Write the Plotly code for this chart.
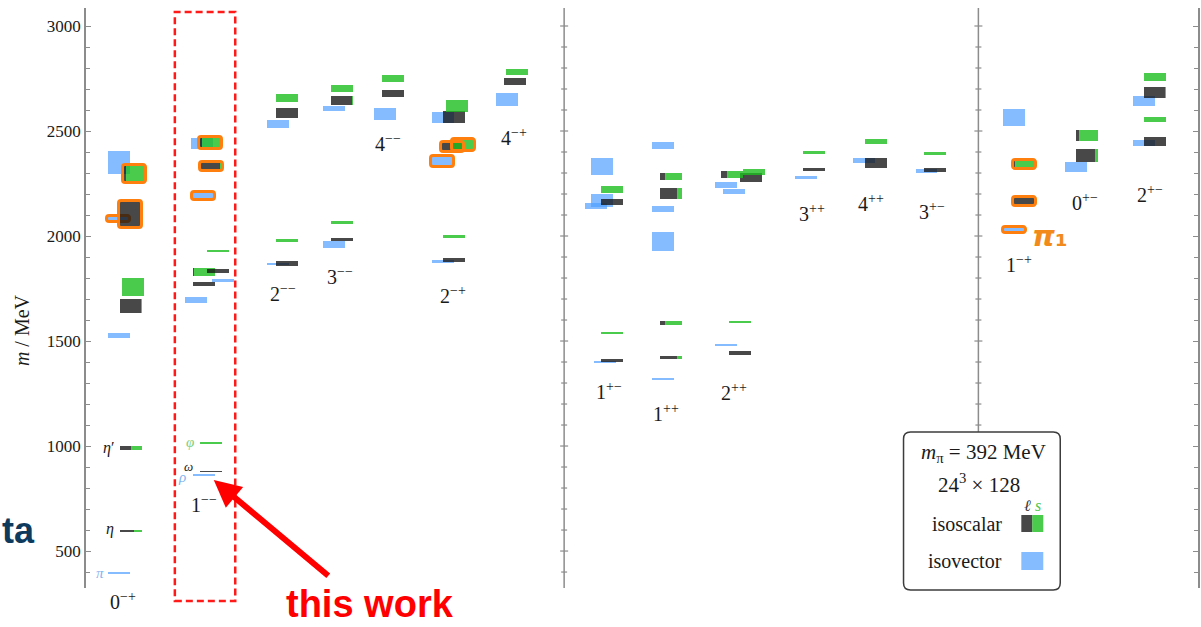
import plotly.graph_objects as go

# ---------------------------------------------------------------- channels
channels = ["0-+", "1--", "2--", "3--", "4--", "2-+", "4-+",
            "1+-", "1++", "2++", "3++", "4++", "3+-",
            "1-+", "0+-", "2+-"]
channel_text = ["0<sup>−+</sup>", "1<sup>−−</sup>", "2<sup>−−</sup>", "3<sup>−−</sup>",
                "4<sup>−−</sup>", "2<sup>−+</sup>", "4<sup>−+</sup>",
                "1<sup>+−</sup>", "1<sup>++</sup>", "2<sup>++</sup>", "3<sup>++</sup>",
                "4<sup>++</sup>", "3<sup>+−</sup>",
                "1<sup>−+</sup>", "0<sup>+−</sup>", "2<sup>+−</sup>"]
# column centre of each channel (x axis runs in screen-pixel units)
channel_x = [131, 211, 287, 342, 394, 455, 516,
             613, 672, 741, 815, 877, 937,
             1026, 1089, 1157]
label_x = [123, 204, 283, 340, 389, 454, 515,
           610, 667, 735, 813, 872, 934,
           1021, 1087, 1152]
label_y = [602, 505, 294, 277, 144, 296, 138,
           392, 414, 393, 214, 204, 212,
           265, 203, 195]

# ---------------------------------------------------------------- isovector states
iv_channel = ["0-+", "0-+", "0-+", "0-+",
              "1--", "1--", "1--", "1--", "1--",
              "2--", "2--", "3--", "3--", "4--",
              "2-+", "2-+", "2-+", "4-+",
              "1+-", "1+-", "1+-", "1+-",
              "1++", "1++", "1++", "1++",
              "2++", "2++", "2++", "3++", "4++", "3+-",
              "1-+", "1-+", "0+-", "2+-", "2+-"]
iv_mass = [394, 1527, 2081, 2351,
           862, 1695, 1788, 2189, 2439,
           1867, 2532, 1960, 2608, 2582,
           1878, 2356, 2563, 2649,
           1399, 2143, 2169, 2330,
           1318, 1974, 2130, 2430,
           1480, 2211, 2243, 2280, 2358, 2310,
           2029, 2564, 2329, 2443, 2644]
iv_err = [4, 12, 13, 55,
          4, 13, 7, 17, 26,
          5, 20, 17, 13, 29,
          8, 24, 26, 30,
          6, 16, 30, 40,
          5, 45, 14, 16,
          5, 13, 13, 8, 12, 9,
          11, 40, 25, 14, 24]
iv_dx = [-12, -12, -12, -12,
         -7, -14.5, 12, -7.5, -9,
         -9, -9, -8, -8, -8,
         -11, -11.5, -11, -8.5,
         -7.5, -16.3, -10, -10,
         -8, -8, -8, -8,
         -14, -6, -14, -8, -12, -9,
         -10, -10, -11, -11, -11]
iv_mark = [0, 0, 1, 0,
           0, 0, 0, 1, 0,
           0, 0, 0, 0, 0,
           0, 1, 0, 0,
           0, 0, 0, 0,
           0, 0, 0, 0,
           0, 0, 0, 0, 0, 0,
           1, 0, 0, 0, 0]

# ---------------------------------------------------------------- isoscalar states
is_channel = ["0-+"] * 6 + ["1--"] * 8 + ["2--"] * 4 + ["3--"] * 4 + ["4--"] * 2 + \
             ["2-+"] * 6 + ["4-+"] * 2 + ["1+-"] * 4 + ["1++"] * 4 + ["2++"] * 5 + \
             ["3++"] * 2 + ["4++"] * 2 + ["3+-"] * 2 + ["1-+"] * 2 + ["0+-"] * 2 + ["2+-"] * 4
is_mass = [597, 992, 1667, 1757, 2102, 2296,
           878, 1013, 1770, 1830, 1832, 1929, 2330, 2443,
           1867, 1978, 2586, 2658,
           1984, 2064, 2645, 2703,
           2679, 2750,
           1886, 1997, 2567, 2618, 2425, 2433,
           2737, 2780,
           1409, 1539, 2162, 2222,
           1422, 1586, 2202, 2284,
           1444, 1591, 2277, 2293, 2304,
           2318, 2399,
           2348, 2449,
           2316, 2391,
           2164, 2340,
           2383, 2479,
           2449, 2555, 2683, 2759]
is_err = [4, 9.5, 33, 43, 61, 40,
          4, 4, 9, 20, 9, 5, 19, 24,
          12, 6, 22, 18,
          8, 7, 21, 16,
          18, 15,
          11, 6, 30, 29, 22, 27,
          17, 15,
          7, 4, 13, 16,
          6, 8, 25, 17,
          9, 4, 21, 17, 15,
          8, 7,
          22, 12,
          10, 7,
          18, 20,
          29, 26,
          21, 13, 28, 19]
# light-quark (ℓ) fraction of each isoscalar state; the rest is strange (s)
is_light = [0.62, 0.5, 0.97, 0.0, 0.9, 0.08,
            1, 0, 1, 0.02, 1, 0, 0.9, 0.08,
            1, 0, 1, 0,
            1, 0, 0.96, 0,
            1, 0,
            1, 0, 1, 0, 0.95, 0.05,
            1, 0,
            1, 0, 1, 0,
            0.76, 0.21, 0.77, 0.21,
            1, 0, 1, 0.27, 0,
            1, 0,
            1, 0,
            1, 0,
            0.92, 0.08,
            0.85, 0.12,
            1, 0, 0.97, 0]
is_dx = [0, 0, 0, 2.5, 0, 4,
         0, 0, -6.7, -6.5, 7, 7, 0.5, 0,
         0, 0, 0, 0,
         0, 0, 0, 0,
         0, 0,
         0, 0, 0, 3, -1.5, 9,
         0, 2,
         0, 0, 0, 0,
         0, 0, 0, 0,
         0, 0, 11, -8, 14,
         0, 0,
         0, 0,
         0, 0,
         0, 0,
         0, 0,
         0, 0, 0, 0]
is_mark = [0, 0, 0, 0, 1, 1,
           0, 0, 0, 0, 0, 0, 1, 1,
           0, 0, 0, 0,
           0, 0, 0, 0,
           0, 0,
           0, 0, 0, 0, 1, 1,
           0, 0,
           0, 0, 0, 0,
           0, 0, 0, 0,
           0, 0, 0, 0, 0,
           0, 0,
           0, 0,
           0, 0,
           1, 1,
           0, 0,
           0, 0, 0, 0]

# ---------------------------------------------------------------- style
BAR_W = 22
BLUE = "rgba(80,160,255,0.7)"
GREY = "rgba(20,20,20,0.78)"
GREEN = "rgba(30,190,30,0.8)"
ORANGE = "#ff7f0e"
AXIS = "#8c8c8c"
SERIF = "Liberation Serif"
W, H = 1201, 627
L, R, T, B = 86, 1, 8, 39
M_LO, M_HI = 324.0, 3085.7
MEV_PER_PX = (M_HI - M_LO) / (H - T - B)


def col(ch):
    return channel_x[channels.index(ch)]


def px_x(x):
    return (x - L) / (W - L - R)


def px_y(y):
    return (H - B - y) / (H - T - B)


fig = go.Figure()

# isovector boxes
iv_x = [col(c) + d for c, d in zip(iv_channel, iv_dx)]
fig.add_trace(go.Bar(
    x=iv_x, y=[2 * e for e in iv_err], base=[m - e for m, e in zip(iv_mass, iv_err)],
    width=[BAR_W] * len(iv_x), marker=dict(color=BLUE, line=dict(width=0)),
    hoverinfo="skip"))

# highlighted isovector states
pad = 0.5 * MEV_PER_PX
sel = [i for i, k in enumerate(iv_mark) if k]
fig.add_trace(go.Bar(
    x=[iv_x[i] for i in sel], y=[2 * (iv_err[i] + pad) for i in sel],
    base=[iv_mass[i] - iv_err[i] - pad for i in sel], width=[BAR_W + 1] * len(sel),
    marker=dict(color="rgba(0,0,0,0)", line=dict(width=3, color=ORANGE), cornerradius=3),
    hoverinfo="skip"))

# isoscalar boxes: light part (dark grey) left, strange part (green) right
bx, by, bb, bw, bc = [], [], [], [], []
for c, d, m, e, f in zip(is_channel, is_dx, is_mass, is_err, is_light):
    left = col(c) + d - BAR_W / 2
    wl = BAR_W * f
    ws = BAR_W - wl
    if wl > 0.05:
        bx.append(left + wl / 2); bw.append(wl); bc.append(GREY)
        by.append(2 * e); bb.append(m - e)
    if ws > 0.05:
        bx.append(left + wl + ws / 2); bw.append(ws); bc.append(GREEN)
        by.append(2 * e); bb.append(m - e)
fig.add_trace(go.Bar(x=bx, y=by, base=bb, width=bw,
                     marker=dict(color=bc, line=dict(width=0)), hoverinfo="skip"))

sel = [i for i, k in enumerate(is_mark) if k]
fig.add_trace(go.Bar(
    x=[col(is_channel[i]) + is_dx[i] for i in sel], y=[2 * (is_err[i] + pad) for i in sel],
    base=[is_mass[i] - is_err[i] - pad for i in sel], width=[BAR_W + 1] * len(sel),
    marker=dict(color="rgba(0,0,0,0)", line=dict(width=3, color=ORANGE), cornerradius=3),
    hoverinfo="skip"))

# separators between the three groups of channels, with tick marks on both sides
sep_x = [565, 980]
tick_vals = list(range(400, 3001, 100))
for sx in sep_x:
    fig.add_shape(type="line", xref="x", yref="paper", x0=sx, x1=sx, y0=0, y1=1,
                  line=dict(color=AXIS, width=1.5), layer="above")
    for v in tick_vals:
        half = 4 if v % 500 == 0 else 3
        fig.add_shape(type="line", xref="x", yref="y", x0=sx - half, x1=sx + half, y0=v, y1=v,
                      line=dict(color=AXIS, width=1.2), layer="above")

fig.update_layout(
    width=W, height=H, margin=dict(l=L, r=R, t=T, b=B),
    plot_bgcolor="white", paper_bgcolor="white",
    barmode="overlay", bargap=0, showlegend=False,
    xaxis=dict(range=[L, W - R], visible=False, fixedrange=True),
    yaxis=dict(range=[M_LO, M_HI], showline=True, linecolor=AXIS, linewidth=1.5,
               mirror="ticks", ticks="inside", ticklen=5, tickwidth=1.2, tickcolor=AXIS,
               tick0=0, dtick=500, showgrid=False, zeroline=False,
               minor=dict(tick0=0, dtick=100, ticks="inside", ticklen=4, tickwidth=1.1,
                          tickcolor=AXIS, showgrid=False),
               tickfont=dict(family=SERIF, size=17, color="#1a1a1a"), fixedrange=True),
)


def ann(text, x, y, size=19, color="#1a1a1a", family=SERIF, **kw):
    fig.add_annotation(text=text, x=px_x(x), y=px_y(y), xref="paper", yref="paper",
                       showarrow=False, font=dict(family=family, size=size, color=color),
                       xanchor=kw.pop("xanchor", "center"), yanchor=kw.pop("yanchor", "middle"),
                       **kw)


# channel J^PC labels
for t, lx, ly in zip(channel_text, label_x, label_y):
    ann(t, lx, ly - 1, size=20)

# ground-state names
ann("<i>π</i>", 100, 573, size=15, color="#7fb5f0")
ann("<i>η</i>", 110, 529, size=16)
ann("<i>η</i>′", 109, 448, size=16)
ann("<i>φ</i>", 190.5, 442, size=15, color="#7ed07e")
ann("<i>ω</i>", 189, 466, size=13)
ann("<i>ρ</i>", 182, 477, size=15, color="#7fb5f0")

# axis title
ann("<i>m</i>\u00a0/\u00a0MeV", 22, 330, size=20, textangle=-90)

# info box
x0b, x1b, y0b, y1b, rr = 905, 1062, 432, 590, 7
path = (f"M {px_x(x0b + rr)},{px_y(y0b)} L {px_x(x1b - rr)},{px_y(y0b)} "
        f"Q {px_x(x1b)},{px_y(y0b)} {px_x(x1b)},{px_y(y0b + rr)} "
        f"L {px_x(x1b)},{px_y(y1b - rr)} Q {px_x(x1b)},{px_y(y1b)} {px_x(x1b - rr)},{px_y(y1b)} "
        f"L {px_x(x0b + rr)},{px_y(y1b)} Q {px_x(x0b)},{px_y(y1b)} {px_x(x0b)},{px_y(y1b - rr)} "
        f"L {px_x(x0b)},{px_y(y0b + rr)} Q {px_x(x0b)},{px_y(y0b)} {px_x(x0b + rr)},{px_y(y0b)} Z")
fig.add_shape(type="path", path=path, xref="paper", yref="paper",
              line=dict(color="#3c3c3c", width=1.5), fillcolor="white", layer="above")
ann("<i>m</i><sub>π</sub> = 392\u00a0MeV", 985, 453, size=21)
ann("24<sup>3</sup> × 128", 981, 483, size=21)
ann("<i>ℓ</i>", 1029, 505, size=16, color="#333333")
ann("<i>s</i>", 1040, 505, size=16, color="#4cc94c")
ann("isoscalar", 969, 524, size=20)
ann("isovector", 967, 561, size=20)
for (sx0, sx1, sy0, sy1, c) in [(1023, 1034, 515, 532, GREY), (1034, 1045, 515, 532, GREEN),
                                (1023, 1045, 552, 570, BLUE)]:
    fig.add_shape(type="rect", xref="paper", yref="paper", x0=px_x(sx0), x1=px_x(sx1),
                  y0=px_y(sy1), y1=px_y(sy0), line=dict(width=0), fillcolor=c, layer="above")

# highlight frame, arrow and captions
fig.add_shape(type="rect", xref="paper", yref="paper", x0=px_x(175), x1=px_x(235.5),
              y0=px_y(601), y1=px_y(12), line=dict(color="#ff1a1a", width=2.5, dash="7px,4px"),
              layer="above")
fig.add_annotation(text="", x=px_x(214), y=px_y(480), xref="paper", yref="paper",
                   showarrow=True, ax=116, ay=97, arrowhead=2, arrowsize=0.9, arrowwidth=6,
                   arrowcolor="#ff0000")
ann("<b>this work</b>", 371, 627, size=38, color="#ff0000", family="Liberation Sans",
    yanchor="bottom")
ann("<b>ta</b>", 0, 530, size=36, color="#0e3a5d", family="Liberation Sans", xanchor="left")
ann("<b><i>π</i></b><b>₁</b>", 1052, 236, size=29, color="#f28a1b", family="DejaVu Sans")

fig.write_html("out.html", config={"displayModeBar": False})
